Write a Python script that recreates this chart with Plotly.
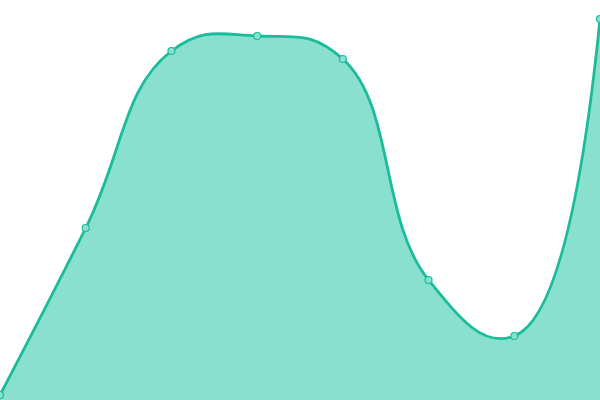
import plotly.graph_objects as go

categories = [0, 1, 2, 3, 4, 5, 6, 7]
values = [5, 172, 349, 364, 341, 120, 64, 381]

fig = go.Figure()
fig.add_trace(go.Scatter(
    x=categories, y=values,
    mode="lines+markers",
    line=dict(shape="spline", smoothing=1.3, color="#1abc9c", width=2.8),
    fill="tozeroy", fillcolor="#89e0cf",
    marker=dict(size=7, color="#89e0cf", line=dict(color="#1abc9c", width=1.2)),
    hoverinfo="skip", cliponaxis=False,
))
fig.update_layout(
    width=600, height=400,
    margin=dict(l=0, r=0, t=0, b=0),
    paper_bgcolor="white", plot_bgcolor="white",
    showlegend=False,
    xaxis=dict(visible=False, range=[0, 7], fixedrange=True),
    yaxis=dict(visible=False, range=[0, 400], fixedrange=True),
)
fig.write_html(
    "out.html",
    config={"displayModeBar": False},
    post_script="document.body.style.margin='0';document.body.style.overflow='hidden';",
)
